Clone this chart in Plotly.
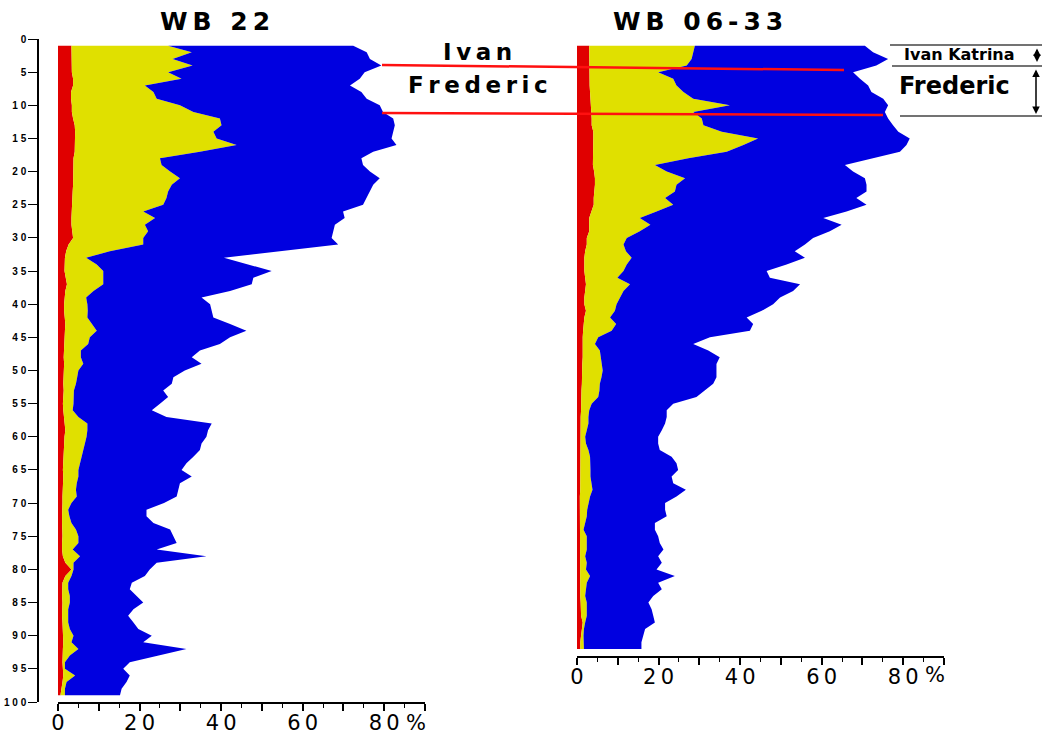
import plotly.graph_objects as go

# ---------------- data (percent, cumulative boundaries) ----------------
depth_wb22 = list(range(1, 100))
wb22_red = [3.3, 3.3, 3.3, 3.3, 3.4, 3.7, 3.7, 3.2, 3.2, 3.4,
            3.4, 3.7, 4.1, 4.2, 4.2, 4.2, 4.1, 3.8, 3.8, 3.8,
            3.7, 3.7, 3.6, 3.5, 3.4, 3.4, 3.3, 3.3, 3.5, 3.7,
            2.6, 2.0, 1.7, 1.6, 1.6, 1.9, 2.2, 1.8, 1.6, 1.5,
            1.5, 1.6, 1.8, 1.7, 1.6, 1.5, 1.4, 1.4, 1.5, 1.4,
            1.3, 1.3, 1.4, 1.3, 1.2, 1.3, 1.5, 1.7, 1.8, 1.6,
            1.5, 1.4, 1.3, 1.3, 1.2, 1.3, 1.2, 1.2, 1.1, 1.1,
            1.0, 1.0, 1.0, 1.1, 1.1, 1.0, 1.0, 1.2, 1.8, 3.3,
            1.8, 1.1, 1.0, 1.0, 1.1, 1.0, 1.0, 1.1, 1.2, 1.3,
            1.3, 1.2, 1.1, 1.1, 1.2, 1.3, 1.1, 0.8, 0.6]
wb22_yellow = [27.0, 32.8, 28.1, 33.0, 27.0, 30.3, 21.3, 23.4, 24.2, 29.9,
               33.2, 39.7, 40.1, 38.1, 38.9, 43.8, 34.8, 25.0, 25.4, 27.5,
               29.9, 27.9, 27.0, 26.6, 25.8, 20.9, 23.8, 21.3, 22.1, 20.9,
               20.9, 12.7, 6.9, 9.5, 11.1, 11.1, 11.1, 8.7, 6.9, 7.2,
               7.3, 7.2, 8.3, 9.5, 7.8, 7.4, 5.6, 5.6, 6.2, 5.0,
               4.7, 4.4, 3.9, 3.9, 3.8, 3.6, 5.0, 7.2, 7.2, 7.0,
               6.6, 6.2, 5.8, 5.4, 5.0, 5.0, 4.6, 4.4, 4.6, 3.3,
               2.5, 2.8, 3.3, 4.4, 5.0, 5.0, 3.6, 5.4, 3.8, 3.8,
               3.3, 2.5, 2.5, 2.9, 2.9, 2.5, 2.5, 2.5, 2.9, 3.8,
               3.3, 5.0, 2.9, 1.7, 1.7, 4.2, 2.1, 1.7, 1.7]
wb22_blue = [72.4, 75.7, 76.5, 79.3, 75.2, 74.0, 71.6, 74.4, 75.7, 78.9,
             79.7, 82.2, 82.6, 82.2, 81.8, 83.0, 77.3, 74.4, 74.8, 76.5,
             78.9, 77.3, 76.5, 75.7, 74.8, 69.9, 70.3, 67.9, 67.5, 67.1,
             68.7, 55.2, 40.7, 46.6, 52.4, 47.9, 47.5, 42.2, 35.2, 37.3,
             37.7, 38.1, 42.2, 46.2, 42.2, 39.7, 34.8, 32.8, 35.2, 31.1,
             28.3, 27.9, 25.8, 27.0, 25.0, 23.0, 26.6, 37.7, 36.8, 36.4,
             35.2, 34.8, 33.2, 31.5, 30.3, 32.8, 29.9, 29.5, 29.1, 26.0,
             21.7, 21.7, 23.4, 27.5, 28.3, 29.1, 24.2, 36.4, 24.2, 22.5,
             21.3, 18.1, 17.6, 19.3, 20.9, 18.5, 17.2, 18.5, 19.7, 23.0,
             20.9, 31.5, 24.2, 17.6, 16.0, 17.6, 16.8, 15.6, 15.2]

depth_wb0633 = list(range(1, 93))
wb0633_red = [3.0, 3.0, 3.0, 3.0, 3.0, 3.0, 3.1, 3.2, 3.3, 3.5,
              3.6, 3.6, 3.6, 4.0, 4.0, 4.0, 4.0, 3.9, 3.9, 4.2,
              4.4, 4.4, 4.2, 4.1, 4.1, 3.6, 3.0, 3.0, 3.0, 2.4,
              2.4, 2.0, 1.8, 1.8, 1.8, 2.0, 2.2, 2.0, 1.8, 1.8,
              2.2, 1.8, 1.6, 1.5, 1.4, 1.4, 1.5, 1.4, 1.3, 1.3,
              1.2, 1.2, 1.1, 1.1, 1.0, 1.0, 0.9, 0.9, 0.9, 0.8,
              0.8, 0.9, 0.9, 0.9, 0.8, 0.8, 0.8, 0.8, 0.7, 0.7,
              0.7, 0.7, 0.8, 0.8, 0.8, 0.8, 0.7, 0.7, 0.7, 0.8,
              0.8, 0.8, 0.8, 0.8, 0.9, 0.9, 1.0, 1.4, 1.2, 0.9,
              0.8, 0.8]
wb0633_yellow = [28.9, 28.5, 28.1, 26.9, 19.9, 23.6, 24.4, 26.1, 28.5, 37.5,
                 28.5, 30.6, 31.0, 35.5, 44.4, 40.8, 36.7, 27.3, 19.1, 22.0,
                 26.5, 24.4, 24.0, 21.6, 23.6, 19.5, 15.4, 18.0, 15.4, 12.2,
                 11.4, 12.0, 13.4, 12.2, 11.4, 9.9, 13.0, 11.4, 10.5, 9.7,
                 9.3, 8.1, 9.6, 8.5, 5.2, 4.4, 5.6, 5.8, 6.0, 6.3,
                 6.0, 5.6, 5.5, 5.2, 3.6, 3.0, 2.8, 2.8, 2.4, 2.0,
                 2.2, 2.8, 3.2, 3.3, 3.3, 3.3, 3.6, 3.8, 3.2, 2.8,
                 2.5, 2.4, 2.0, 1.6, 2.4, 2.4, 2.4, 2.0, 2.4, 2.2,
                 3.2, 2.4, 2.2, 2.0, 2.4, 2.4, 2.4, 2.0, 1.7, 1.6,
                 1.7, 1.7]
wb0633_blue = [70.6, 72.6, 76.3, 73.4, 67.7, 69.4, 71.4, 72.2, 75.1, 76.3,
               75.5, 76.3, 77.5, 78.8, 81.6, 80.8, 79.2, 72.6, 65.7, 67.7,
               70.6, 71.0, 71.0, 68.5, 71.0, 66.1, 60.4, 64.9, 62.0, 57.9,
               55.9, 53.4, 55.9, 51.4, 46.5, 47.3, 54.7, 53.0, 49.8, 48.1,
               45.3, 41.6, 43.2, 42.4, 32.6, 28.5, 32.2, 35.0, 34.2, 34.2,
               34.2, 33.4, 31.4, 29.3, 23.6, 22.0, 22.0, 21.6, 20.8, 19.9,
               19.9, 20.3, 23.2, 24.4, 24.8, 23.2, 23.6, 26.7, 24.4, 21.6,
               21.6, 22.0, 19.1, 19.1, 19.9, 20.3, 21.2, 19.9, 20.8, 19.5,
               24.0, 19.9, 20.8, 18.7, 17.5, 18.3, 18.7, 19.1, 16.7, 16.3,
               15.8, 15.8]

x_tickvals = [0, 10, 20, 30, 40, 50, 60, 70, 80, 90]
x_ticktext = ["0", "", "2\u20090", "", "4\u20090", "", "6\u20090", "", "8\u20090", ""]
x_minor = [5, 15, 25, 35, 45, 55, 65, 75, 85]
y_tickvals = list(range(0, 101, 5))
y_ticktext = ["0", "5"] + [" ".join(str(v)) for v in range(10, 101, 5)]

# ---------------- helpers ----------------
W, H = 1042, 736
def px(x):
    return x / W
def py(y):
    return 1 - y / H
def spaced(s, sep="\u2009"):
    return sep.join(s)

RED = "#E00000"
YEL = "#E0E000"
BLU = "#0000E0"

fig = go.Figure()

def add_core(depth, red, yellow, blue, xa, ya):
    for xs, col, fill in ((red, RED, "tozerox"), (yellow, YEL, "tonextx"), (blue, BLU, "tonextx")):
        fig.add_trace(go.Scatter(x=xs, y=depth, mode="lines", line=dict(width=0, color=col),
                                 fill=fill, fillcolor=col, xaxis=xa, yaxis=ya,
                                 hoverinfo="skip", showlegend=False))

add_core(depth_wb22, wb22_red, wb22_yellow, wb22_blue, "x", "y")
add_core(depth_wb0633, wb0633_red, wb0633_yellow, wb0633_blue, "x2", "y2")

xtickfont = dict(family="DejaVu Sans", size=21, color="black")
xcommon = dict(range=[0, 90], tickmode="array", tickvals=x_tickvals, ticktext=x_ticktext,
               ticks="outside", ticklen=7, tickwidth=1.5, tickcolor="black",
               showline=True, linecolor="black", linewidth=1.5, showgrid=False,
               zeroline=False, tickfont=xtickfont, automargin=False, ticklabelstandoff=-6,
               minor=dict(tickmode="array", tickvals=x_minor, ticks="outside", ticklen=4,
                          tickwidth=1.2, tickcolor="black", showgrid=False))

fig.update_layout(
    template="none",
    width=W, height=H, autosize=False,
    margin=dict(l=0, r=0, t=0, b=0, pad=0),
    paper_bgcolor="white", plot_bgcolor="white",
    xaxis=dict(domain=[px(58), px(425)], anchor="y", **xcommon),
    yaxis=dict(domain=[py(702), py(39)], range=[100, 0], anchor="free", position=px(38),
               tickmode="array", tickvals=y_tickvals, ticktext=y_ticktext,
               ticks="outside", ticklen=9, tickwidth=1.2, tickcolor="black",
               showline=True, linecolor="black", linewidth=1.5, showgrid=False, zeroline=False,
               automargin=False,
               tickfont=dict(family="Liberation Sans", size=10, color="black", weight="bold")),
    xaxis2=dict(domain=[px(577), px(944)], anchor="y2", **xcommon),
    yaxis2=dict(domain=[py(656), py(39)], range=[93.06, 0], visible=False, showgrid=False,
                zeroline=False, automargin=False),
)

title_font = dict(family="DejaVu Sans", size=25, color="black", weight="bold")
ann = [
    dict(text=spaced("WB 22"), x=px(215), y=py(21), font=title_font),
    dict(text=spaced("WB 06-33"), x=px(698), y=py(21), font=title_font),
    dict(text=spaced("Ivan"), x=px(477), y=py(52),
         font=dict(family="DejaVu Sans", size=23, color="black", weight="bold")),
    dict(text=spaced("Frederic"), x=px(478), y=py(85),
         font=dict(family="DejaVu Sans", size=23, color="black", weight="bold")),
    dict(text="Ivan Katrina", x=px(959), y=py(55),
         font=dict(family="DejaVu Sans", size=16, color="black", weight="bold")),
    dict(text="Frederic", x=px(954), y=py(86),
         font=dict(family="DejaVu Sans", size=24, color="black", weight="bold")),
    dict(text="%", x=px(416), y=py(723), font=xtickfont),
    dict(text="%", x=px(935), y=py(675), font=xtickfont),
]
for a in ann:
    fig.add_annotation(xref="paper", yref="paper", showarrow=False,
                       xanchor="center", yanchor="middle", **a)

# double-headed arrows on the right
for xa, y0, y1 in ((1037, 47, 62), (1036, 68, 114)):
    fig.add_annotation(xref="paper", yref="paper", x=px(xa), y=py(y1), ax=0, ay=-(y1 - y0),
                       text="", showarrow=True, arrowhead=2, startarrowhead=2,
                       arrowside="end+start", arrowsize=1, arrowwidth=1.5, arrowcolor="black")

shapes = [
    dict(x0=382, y0=65, x1=844, y1=70, color="#FF1010", width=2.5),
    dict(x0=382, y0=113, x1=883, y1=115, color="#FF1010", width=2.5),
    dict(x0=890, y0=45, x1=1042, y1=45, color="#444444", width=1.5),
    dict(x0=892, y0=66, x1=1042, y1=66, color="#444444", width=1.5),
    dict(x0=900, y0=116, x1=1042, y1=116, color="#444444", width=1.5),
]
for s in shapes:
    fig.add_shape(type="line", xref="paper", yref="paper",
                  x0=px(s["x0"]), y0=py(s["y0"]), x1=px(s["x1"]), y1=py(s["y1"]),
                  line=dict(color=s["color"], width=s["width"]))

fig.write_html("out.html")
